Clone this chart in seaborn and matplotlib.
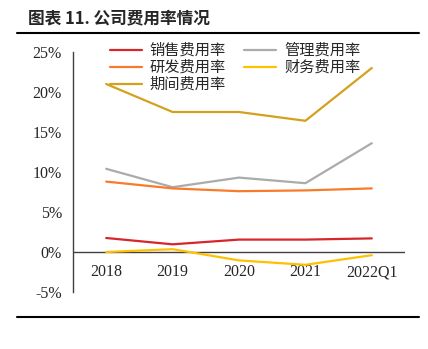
import matplotlib
matplotlib.use("Agg")
import matplotlib.pyplot as plt
import seaborn as sns
import pandas as pd
from matplotlib.lines import Line2D

periods = ["2018", "2019", "2020", "2021", "2022Q1"]
sales = [1.75, 0.96, 1.55, 1.55, 1.70]
admin = [10.4, 8.1, 9.3, 8.6, 13.6]
rnd = [8.8, 7.95, 7.6, 7.7, 7.95]
finance = [0.0, 0.35, -1.05, -1.6, -0.4]
period_total = [21.0, 17.5, 17.5, 16.4, 23.0]
series_names = ["销售费用率", "管理费用率", "研发费用率", "财务费用率", "期间费用率"]
yticks = [-5, 0, 5, 10, 15, 20, 25]
title = "图表 11. 公司费用率情况"

colors = {"销售费用率": "#D7262B", "管理费用率": "#ABABAB", "研发费用率": "#F97A2A",
          "财务费用率": "#FFC000", "期间费用率": "#D4A11E"}

rows = []
for name, vals in zip(series_names, [sales, admin, rnd, finance, period_total]):
    for i, (p, v) in enumerate(zip(periods, vals)):
        rows.append({"x": i, "period": p, "value": v, "series": name})
df = pd.DataFrame(rows)

sns.set_style("white")
plt.rcParams['font.family'] = ['Noto Sans CJK SC', 'DejaVu Sans']

W, H = 428, 349
fig = plt.figure(figsize=(W / 100, H / 100), dpi=100)
ax = fig.add_axes([73 / W, 1 - 292 / H, (405 - 73) / W, (292 - 52) / H])

sns.lineplot(data=df, x="x", y="value", hue="series", hue_order=series_names,
             palette=colors, linewidth=1.6, ax=ax, legend=False, sort=False)

ax.set_xlim(-0.5, 4.5)
ax.set_ylim(-5, 25)
ax.axhline(0, color="#404040", lw=1.0, zorder=1)

for s in ["top", "right", "bottom"]:
    ax.spines[s].set_visible(False)
ax.spines["left"].set_color("#404040")
ax.spines["left"].set_linewidth(1.0)

ax.set_yticks(yticks)
ax.set_yticklabels([f"{t}%" for t in yticks], fontfamily="Liberation Serif", fontsize=11.5)
ax.tick_params(axis="y", direction="out", length=4, width=1, color="#404040", pad=4)
ax.set_xticks(range(len(periods)))
ax.set_xticklabels(periods, fontfamily="Liberation Serif", fontsize=11.5)
ax.tick_params(axis="x", length=0, pad=-20)
ax.set_xlabel("")
ax.set_ylabel("")
ax.grid(False)

order = ["销售费用率", "研发费用率", "期间费用率", "管理费用率", "财务费用率"]
handles = [Line2D([0], [0], color=colors[n], lw=1.6) for n in order]
leg = fig.legend(handles, order, loc="upper left", bbox_to_anchor=(110 / W, 1 - 42 / H),
                 ncol=2, frameon=False, fontsize=11, handlelength=2.1, handletextpad=0.5,
                 columnspacing=1.2, labelspacing=0.0, borderpad=0, borderaxespad=0)

fig.text(28 / W, 1 - 18 / H, title, fontsize=12, fontweight="bold", va="center", ha="left")
fig.add_artist(Line2D([17 / W, 419 / W], [1 - 33 / H, 1 - 33 / H], color="black", lw=1.5))
fig.add_artist(Line2D([17 / W, 419 / W], [1 - 317 / H, 1 - 317 / H], color="black", lw=1.5))

fig.savefig("out.png", dpi=100)
